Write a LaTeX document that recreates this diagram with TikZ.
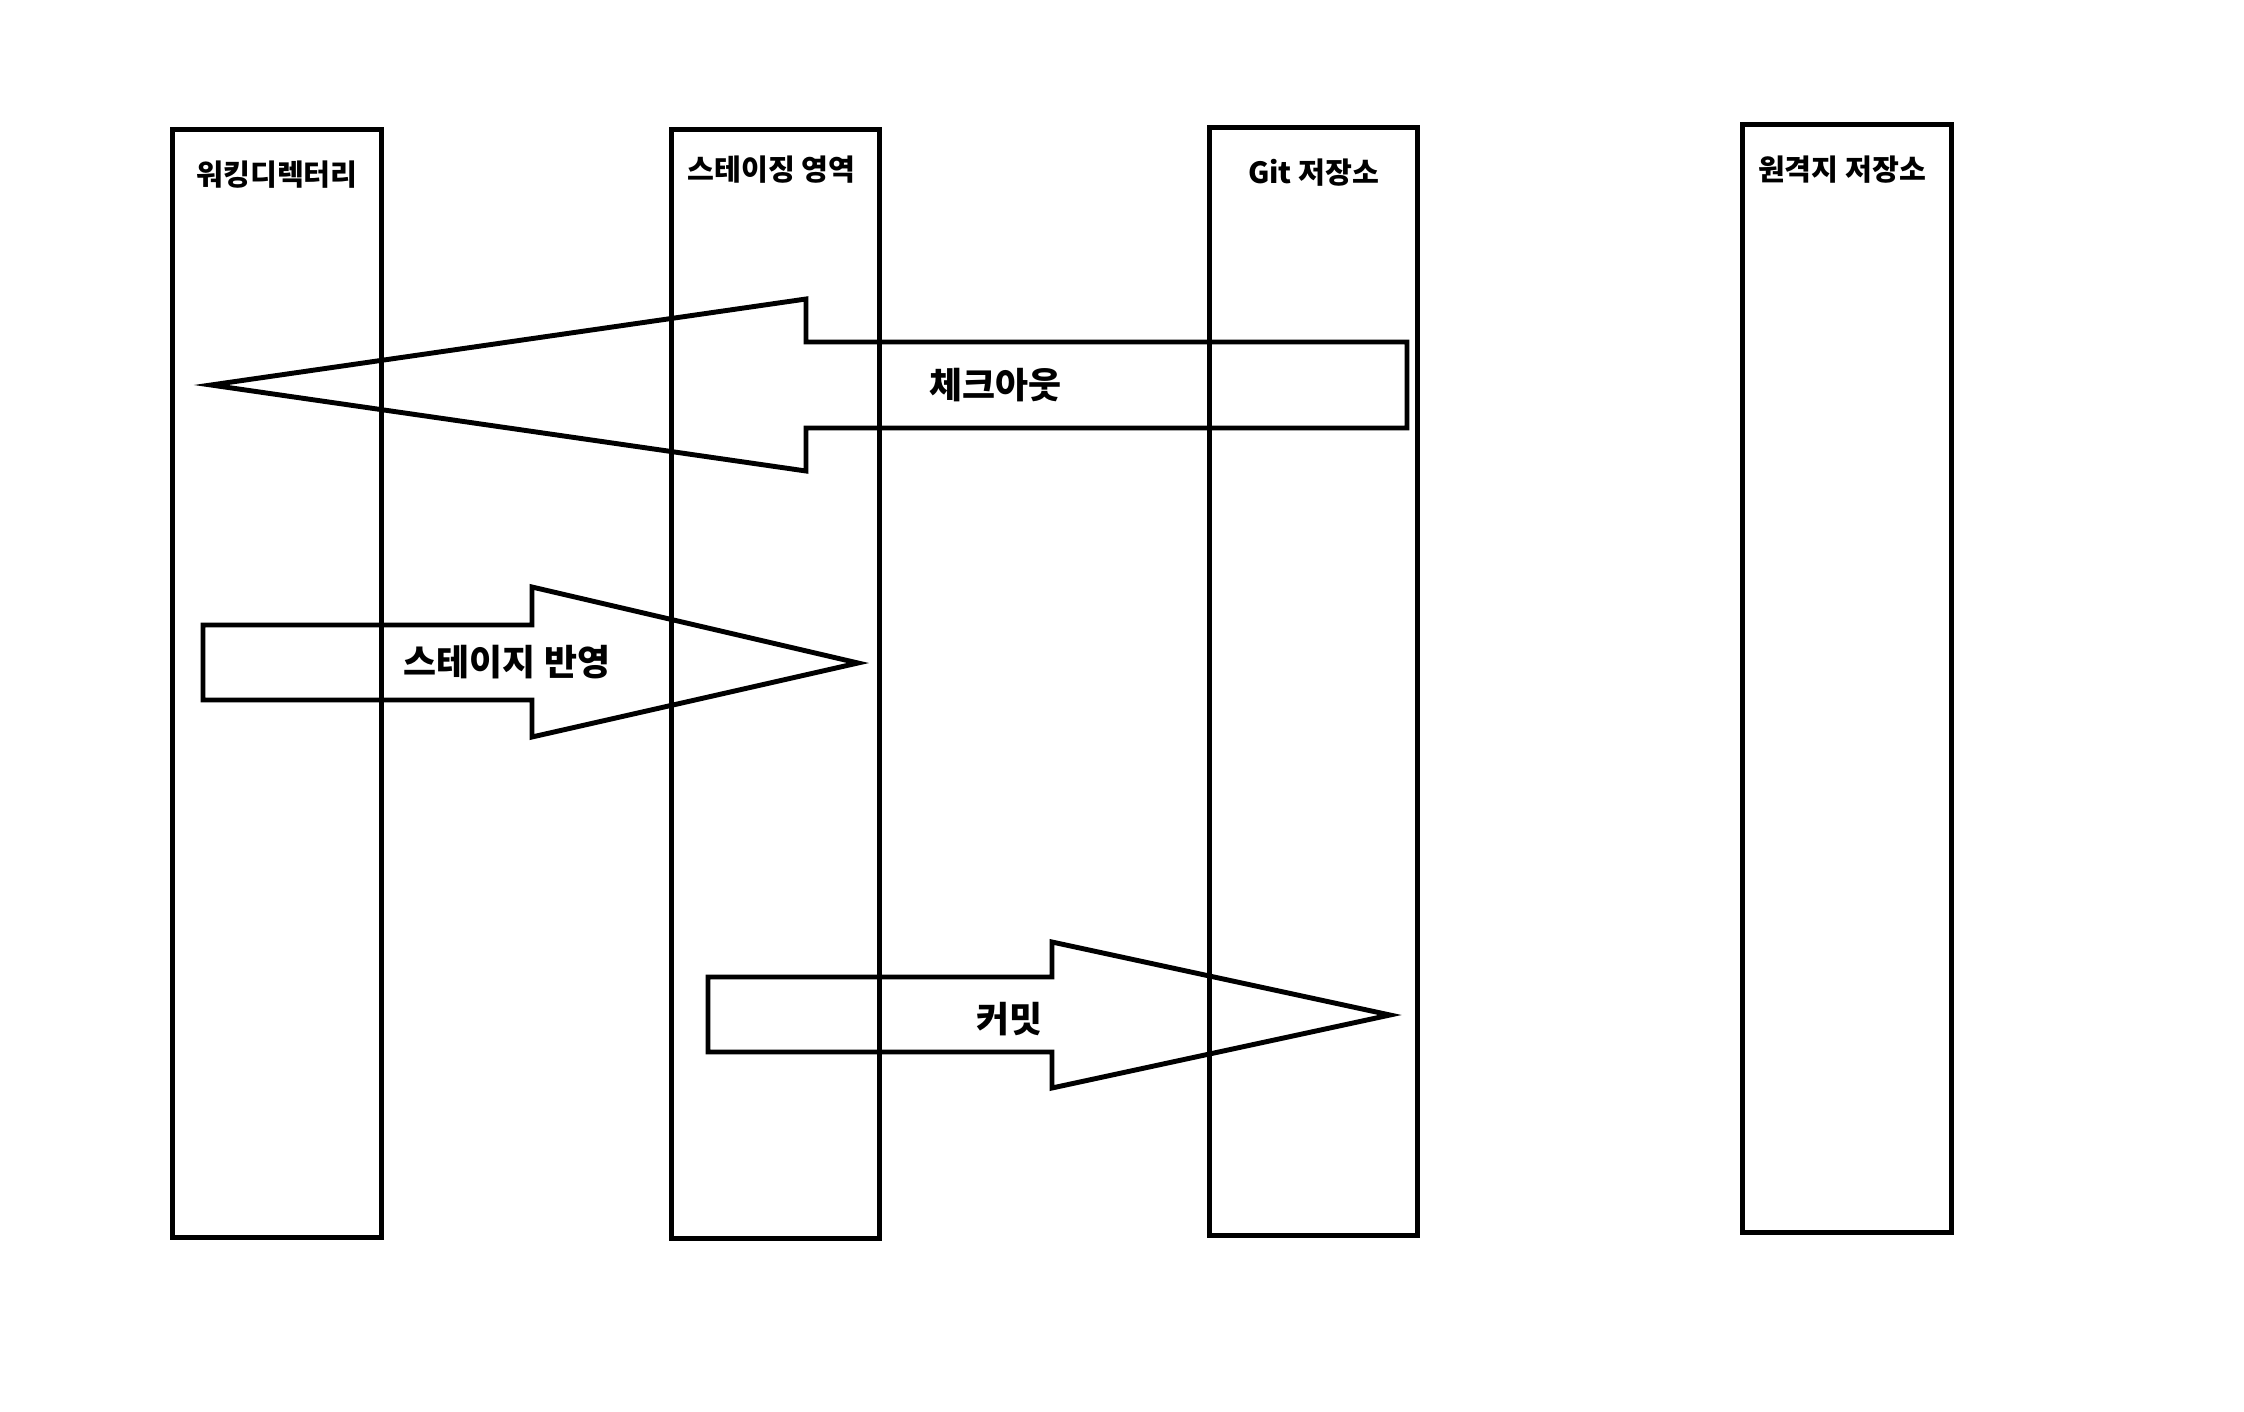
\documentclass[tikz,border=0pt]{standalone}
\usepackage{fontspec}
\setmainfont{Noto Sans CJK KR}
\usetikzlibrary{positioning}
\tikzstyle{lane} = [draw, rectangle, line width=1.4pt, minimum width=2.08cm, minimum height=11.08cm, inner sep=0pt]
\tikzstyle{title} = [font=\fontsize{8.3}{10}\selectfont\bfseries, inner sep=0pt]
\tikzstyle{flow} = [draw, line width=1.4pt, line join=miter]
\tikzstyle{tag} = [font=\fontsize{10.2}{12}\selectfont\bfseries, inner sep=0pt]

\begin{document}
\begin{tikzpicture}[x=0.01cm, y=-0.01cm]

\useasboundingbox (0,0) rectangle (2244,1412);

\node [lane] (work) at (277,683.5) {};
\node [lane] (stage) at (775.5,684) {};
\node [lane] (repo) at (1313.5,681.5) {};
\node [lane] (remote) at (1847,678.5) {};

\node [title] (worktitle) at ([yshift=-0.48cm]work.north) {워킹디렉터리};
\node [title] (stagetitle) at ([xshift=-0.04cm, yshift=-0.42cm]stage.north) {스테이징 영역};
\node [title] (repotitle) at ([yshift=-0.48cm]repo.north) {Git 저장소};
\node [title] (remotetitle) at ([xshift=-0.05cm, yshift=-0.48cm]remote.north) {원격지 저장소};

\draw [flow] (1407,342) -- (806,342) -- (806,299) -- (211,385) -- (806,471) -- (806,428) -- (1407,428) -- cycle;
\draw [flow] (203,625) -- (532,625) -- (532,587) -- (858,663) -- (532,737) -- (532,700) -- (203,700) -- cycle;
\draw [flow] (708,977) -- (1052,977) -- (1052,942) -- (1390,1015) -- (1052,1088) -- (1052,1052) -- (708,1052) -- cycle;

\node [tag] (checkout) at (995,385) {체크아웃};
\node [tag] (add) at (507,662) {스테이지 반영};
\node [tag] (commit) at (1009,1019) {커밋};

\end{tikzpicture}
\end{document}
